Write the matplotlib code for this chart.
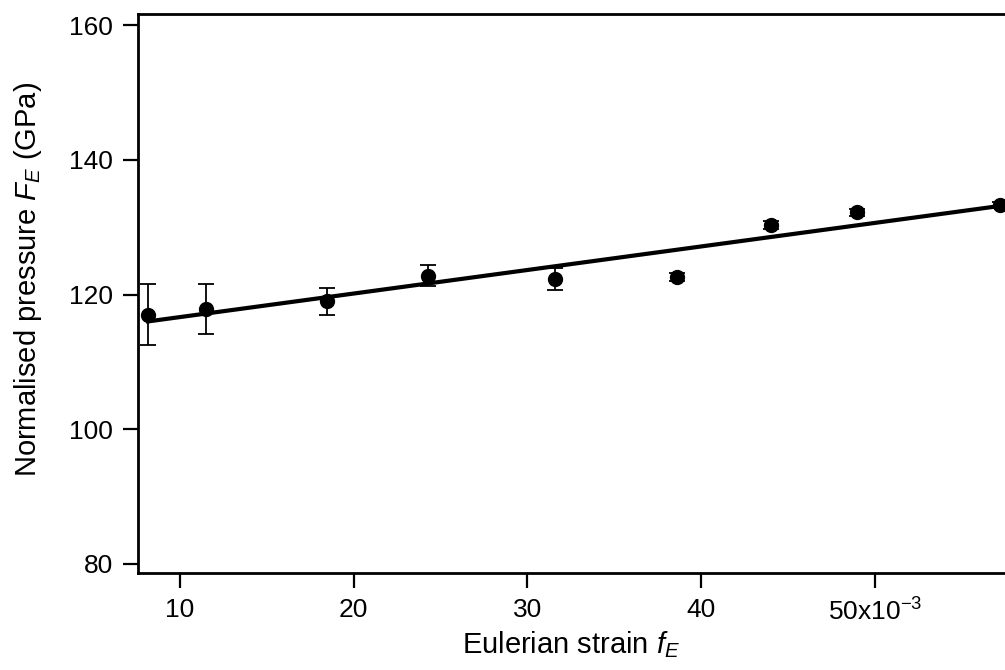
import matplotlib.pyplot as plt

plt.rcParams.update({
    'font.family': 'Liberation Sans',
    'font.size': 20,
    'mathtext.fontset': 'custom',
    'mathtext.rm': 'Liberation Sans',
    'mathtext.it': 'Liberation Sans:italic',
})

# Eulerian strain (x1e-3) and normalised pressure (GPa)
strain = [8.16, 11.5, 18.46, 24.3, 31.6, 38.6, 44.0, 49.0, 57.2]
pressure = [117.0, 117.8, 119.0, 122.8, 122.3, 122.6, 130.3, 132.2, 133.3]
err = [4.5, 3.7, 2.0, 1.6, 1.6, 0.6, 0.6, 0.5, 0.4]

# linear fit endpoints
fit_x = [8.16, 57.6]
fit_y = [116.0, 133.3]

xticks = [10, 20, 30, 40, 50]
xticklabels = ['10', '20', '30', '40', r'50x10$^{-3}$']
yticks = [80, 100, 120, 140, 160]

fig = plt.figure(figsize=(10.05, 6.7), dpi=100)
ax = fig.add_axes([0.1373, 0.1448, 0.8627, 0.8343])

ax.plot(fit_x, fit_y, '-', color='black', lw=3, zorder=2)
ax.errorbar(strain, pressure, yerr=err, fmt='o', color='black', ms=10,
            elinewidth=1.3, capsize=5.5, capthick=1.3, zorder=3)

ax.set_xlim(7.58, 57.5)
ax.set_ylim(78.6, 161.7)
ax.set_xticks(xticks)
ax.set_xticklabels(xticklabels)
ax.set_yticks(yticks)

ax.spines['right'].set_visible(False)
for s in ['left', 'bottom', 'top']:
    ax.spines[s].set_linewidth(2)
ax.tick_params(direction='out', length=11, width=1.6, pad=7, labelsize=19)

ax.set_xlabel(r'Eulerian strain $f_E$', fontsize=21, labelpad=3)
ax.set_ylabel(r'Normalised pressure $F_E$ (GPa)', fontsize=21, labelpad=18)
ax.yaxis.label.set_y(0.525)

fig.savefig('out.png', dpi=100)
plt.close()
